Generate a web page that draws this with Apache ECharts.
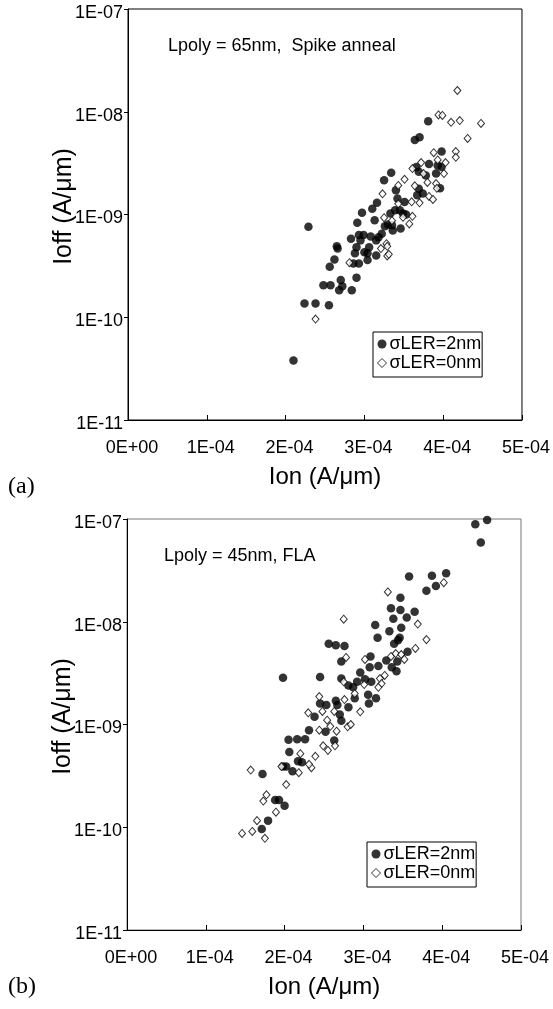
<!DOCTYPE html>
<html>
<head>
<meta charset="utf-8">
<script src="https://cdn.jsdelivr.net/npm/echarts@6/dist/echarts.min.js"></script>
<style>
html,body{margin:0;padding:0;background:#fff;}
#c{width:553px;height:1009px;}
</style>
</head>
<body>
<div id="c"></div>
<script>
// ---- tick labels ----
const xTickLabels = ['0E+00','1E-04','2E-04','3E-04','4E-04','5E-04'];
const yTickLabels = {'-11':'1E-11','-10':'1E-10','-9':'1E-09','-8':'1E-08','-7':'1E-07'};
const seriesNames = ['\u03c3LER=2nm','\u03c3LER=0nm'];
const xTitle = 'Ion (A/\u03bcm)';
const yTitle = 'Ioff (A/\u03bcm)';
const noteA = 'Lpoly = 65nm,  Spike anneal';
const noteB = 'Lpoly = 45nm, FLA';

// ---- (a) Lpoly = 65nm, sigma LER = 2nm ----
const aIon2 = [2.10e-4,2.29e-4,2.24e-4,2.38e-4,2.55e-4,2.48e-4,2.57e-4,2.56e-4,2.62e-4,2.66e-4,2.65e-4,2.70e-4,2.68e-4,2.72e-4,2.84e-4,2.90e-4,2.83e-4,2.91e-4,2.97e-4,2.86e-4,2.93e-4,2.88e-4,2.90e-4,2.93e-4,2.99e-4,3.04e-4,3.04e-4,3.06e-4,3.08e-4,3.13e-4,3.10e-4,3.16e-4,3.15e-4,3.15e-4,3.22e-4,3.26e-4,3.25e-4,3.34e-4,3.35e-4,3.36e-4,3.33e-4,3.40e-4,3.42e-4,3.39e-4,3.46e-4,3.49e-4,3.51e-4,3.53e-4,3.64e-4,3.70e-4,3.81e-4,3.66e-4,3.69e-4,3.69e-4,3.67e-4,3.74e-4,3.78e-4,3.82e-4,3.91e-4,3.93e-4,3.98e-4,3.98e-4,3.96e-4,2.95e-4,3.00e-4,3.18e-4,3.30e-4,3.45e-4];
const aIoff2 = [3.8e-11,7.6e-10,1.36e-10,1.36e-10,1.31e-10,2.05e-10,2.05e-10,3.1e-10,3.64e-10,4.66e-10,4.9e-10,2.3e-10,1.83e-10,2.0e-10,1.83e-10,2.43e-10,5.8e-10,8.3e-10,1.04e-9,3.33e-10,3.33e-10,4.2e-10,4.8e-10,6.3e-10,6.3e-10,3.6e-10,4.2e-10,4.8e-10,6.1e-10,8.8e-10,1.14e-9,1.3e-9,5.6e-10,4.0e-10,6.5e-10,7.7e-10,2.15e-9,2.55e-9,7.85e-10,7.0e-10,1.02e-9,1.72e-9,1.43e-9,1.1e-9,7.3e-10,1.02e-9,1.32e-9,1.0e-9,5.3e-9,5.66e-9,8.1e-9,2.9e-9,2.6e-9,1.78e-9,1.54e-9,1.6e-9,2.4e-9,3.1e-9,2.5e-9,3.0e-9,4.1e-9,2.9e-9,1.8e-9,5.6e-10,4.3e-10,6.0e-10,8.0e-10,1.1e-9];
// ---- (a) sigma LER = 0nm ----
const aIon0 = [2.38e-4,2.81e-4,3.23e-4,3.25e-4,3.21e-4,3.28e-4,3.29e-4,3.29e-4,3.31e-4,3.43e-4,3.51e-4,3.43e-4,3.35e-4,3.57e-4,3.61e-4,3.60e-4,3.61e-4,3.64e-4,3.70e-4,3.72e-4,3.80e-4,3.82e-4,3.87e-4,3.88e-4,3.91e-4,3.92e-4,3.93e-4,3.94e-4,3.99e-4,4.01e-4,4.03e-4,4.10e-4,4.16e-4,4.16e-4,4.18e-4,4.21e-4,4.31e-4,4.48e-4,3.75e-4,3.49e-4];
const aIoff0 = [9.6e-11,3.4e-10,1.59e-9,9.3e-10,4.66e-10,5.2e-10,4.9e-10,3.95e-10,4.1e-10,1.92e-9,2.2e-9,1.27e-9,8.7e-10,8.1e-10,9.6e-10,1.33e-9,2.8e-9,1.9e-9,1.3e-9,3.2e-9,2.05e-9,1.5e-9,1.4e-9,4.0e-9,2.0e-9,1.8e-9,3.4e-9,9.3e-9,9.2e-9,2.5e-9,3.2e-9,7.9e-9,4.1e-9,3.6e-9,1.61e-8,8.2e-9,5.5e-9,7.7e-9,2.5e-9,9.4e-10];

// ---- (b) Lpoly = 45nm, sigma LER = 2nm ----
const bIon2 = [4.42e-4,4.57e-4,4.49e-4,4.05e-4,3.87e-4,3.92e-4,3.80e-4,3.58e-4,3.47e-4,3.35e-4,3.47e-4,3.65e-4,3.55e-4,3.38e-4,3.48e-4,3.15e-4,3.33e-4,3.18e-4,3.46e-4,3.44e-4,3.39e-4,2.56e-4,2.65e-4,2.76e-4,2.72e-4,3.56e-4,3.29e-4,3.43e-4,3.09e-4,3.08e-4,3.19e-4,3.36e-4,3.42e-4,2.96e-4,2.45e-4,1.98e-4,2.72e-4,3.02e-4,2.92e-4,3.10e-4,2.81e-4,2.87e-4,2.89e-4,3.06e-4,3.16e-4,3.07e-4,2.65e-4,2.81e-4,2.45e-4,2.53e-4,2.67e-4,2.38e-4,2.70e-4,2.72e-4,2.31e-4,2.52e-4,2.63e-4,2.05e-4,2.16e-4,2.26e-4,2.06e-4,1.98e-4,2.02e-4,2.17e-4,2.22e-4,2.10e-4,1.72e-4,1.88e-4,1.93e-4,2.00e-4,1.79e-4,1.71e-4];
const bIoff2 = [8.9e-8,9.8e-8,5.9e-8,2.96e-8,2.8e-8,2.23e-8,2.0e-8,2.75e-8,1.71e-8,1.35e-8,1.3e-8,1.25e-8,1.1e-8,1.07e-8,8.75e-9,9.3e-9,8.1e-9,7.0e-9,7.0e-9,6.6e-9,6.1e-9,6.1e-9,5.9e-9,5.8e-9,4.1e-9,5.1e-9,4.2e-9,4.1e-9,4.6e-9,3.6e-9,3.7e-9,3.6e-9,3.3e-9,3.2e-9,2.9e-9,2.85e-9,2.8e-9,2.75e-9,2.6e-9,2.6e-9,2.4e-9,2.3e-9,1.8e-9,1.95e-9,1.8e-9,1.6e-9,1.7e-9,1.47e-9,1.6e-9,1.55e-9,1.55e-9,1.19e-9,1.25e-9,1.09e-9,8.8e-10,8.5e-10,7.0e-10,7.1e-10,7.2e-10,7.2e-10,5.4e-10,3.9e-10,3.9e-10,4.4e-10,4.3e-10,3.5e-10,3.3e-10,1.84e-10,1.84e-10,1.62e-10,1.16e-10,9.6e-11];
// ---- (b) sigma LER = 0nm ----
const bIon0 = [3.31e-4,4.02e-4,2.75e-4,3.69e-4,3.80e-4,3.66e-4,2.78e-4,3.02e-4,3.35e-4,3.41e-4,3.48e-4,3.52e-4,3.27e-4,3.21e-4,3.23e-4,3.19e-4,3.01e-4,2.75e-4,2.89e-4,2.96e-4,2.76e-4,2.44e-4,2.30e-4,2.48e-4,2.54e-4,2.63e-4,2.58e-4,2.44e-4,2.66e-4,2.80e-4,2.84e-4,2.64e-4,2.49e-4,2.55e-4,2.20e-4,2.39e-4,2.34e-4,2.31e-4,2.18e-4,2.02e-4,1.57e-4,1.77e-4,1.73e-4,1.89e-4,1.65e-4,1.59e-4,1.46e-4,1.75e-4,1.96e-4];
const bIoff0 = [1.95e-8,2.4e-8,1.06e-8,9.5e-9,6.7e-9,5.5e-9,4.5e-9,4.3e-9,4.6e-9,4.9e-9,4.8e-9,4.3e-9,3.0e-9,2.8e-9,2.5e-9,2.3e-9,2.45e-9,2.6e-9,2.0e-9,1.33e-9,1.75e-9,1.87e-9,1.3e-9,1.34e-9,1.1e-9,1.34e-9,9.6e-10,8.8e-10,8.6e-10,9.5e-10,1.0e-9,6.2e-10,6.2e-10,5.6e-10,5.2e-10,4.9e-10,3.8e-10,4.1e-10,3.4e-10,2.6e-10,3.6e-10,2.07e-10,1.8e-10,1.4e-10,1.16e-10,9.1e-11,8.7e-11,7.8e-11,3.9e-10];

function pairs(xs, ys){ return xs.map((x,i)=>[x, ys[i]]); }

const FONT = 'Liberation Sans, Arial, sans-serif';
const grids = [
  {left:128, top:9, width:394, height:411, show:true, borderColor:'#000', borderWidth:1},
  {left:127, top:519, width:394, height:411, show:true, borderColor:'#777', borderWidth:1}
];
function xAxisCfg(gi){
  return {
    gridIndex:gi, type:'value', min:0, max:5e-4, interval:1e-4,
    name:xTitle, nameLocation:'middle', nameGap:45, nameMoveOverlap:false,
    nameTextStyle:{fontFamily:FONT, fontSize:24, color:'#000'},
    axisLine:{show:true, lineStyle:{color:'#000', width:1}},
    axisTick:{show:true, inside:true, length:5, lineStyle:{color:'#000'}},
    splitLine:{show:false},
    axisLabel:{fontFamily:FONT, fontSize:18, color:'#000', margin:19, padding:[0,0,0,8],
      showMinLabel:true, showMaxLabel:true,
      formatter:(v)=> xTickLabels[Math.round(v/1e-4)]}
  };
}
function yAxisCfg(gi){
  return {
    gridIndex:gi, type:'log', logBase:10, min:1e-11, max:1e-7, splitNumber:4,
    name:yTitle, nameLocation:'middle', nameGap:51, nameMoveOverlap:false,
    nameTextStyle:{fontFamily:FONT, fontSize:25, color:'#000', padding:[0,0,0,16]},
    axisLine:{show:true, lineStyle:{color:'#000', width:1}},
    axisTick:{show:true, inside:false, length:4, lineStyle:{color:'#000'}},
    minorTick:{show:false},
    splitLine:{show:false},
    axisLabel:{fontFamily:FONT, fontSize:18, color:'#000', margin:5, verticalAlign:'top', padding:[-5,0,0,0],
      showMinLabel:true, showMaxLabel:true,
      formatter:(v)=> yTickLabels[String(Math.round(Math.log10(v)))] || ''}
  };
}
const filledStyle = {color:'#000'};
const openStyle = {color:'#fff', borderColor:'#000', borderWidth:1};
function legendCfg(left, top){
  return {
    left:left, top:top, orient:'vertical',
    borderColor:'#000', borderWidth:1, backgroundColor:'#fff',
    padding:[3,1,5,4], itemGap:1, itemWidth:9, itemHeight:9,
    textStyle:{fontFamily:FONT, fontSize:18, color:'#000', lineHeight:18, padding:[0,0,0,-2]},
    data:[
      {name:seriesNames[0], icon:'circle', itemStyle:filledStyle},
      {name:seriesNames[1], icon:'diamond', itemStyle:openStyle}
    ],
    selectedMode:false
  };
}

const chart = echarts.init(document.getElementById('c'), null, {renderer:'canvas'});
chart.setOption({
  animation:false,
  backgroundColor:'#fff',
  grid:grids,
  xAxis:[xAxisCfg(0), xAxisCfg(1)],
  yAxis:[yAxisCfg(0), yAxisCfg(1)],
  legend:[legendCfg(373,332), legendCfg(367,842)],
  series:[
    {name:seriesNames[0], type:'scatter', xAxisIndex:0, yAxisIndex:0, symbol:'circle', symbolSize:8.5, itemStyle:filledStyle, data:pairs(aIon2,aIoff2)},
    {name:seriesNames[1], type:'scatter', xAxisIndex:0, yAxisIndex:0, symbol:'diamond', symbolSize:[7,8], itemStyle:openStyle, data:pairs(aIon0,aIoff0)},
    {name:seriesNames[0], type:'scatter', xAxisIndex:1, yAxisIndex:1, symbol:'circle', symbolSize:8.5, itemStyle:filledStyle, data:pairs(bIon2,bIoff2)},
    {name:seriesNames[1], type:'scatter', xAxisIndex:1, yAxisIndex:1, symbol:'diamond', symbolSize:[7,8], itemStyle:openStyle, data:pairs(bIon0,bIoff0)}
  ],
  graphic:[
    {type:'text', left:168, top:37, style:{text:noteA, font:'18px '+FONT, fill:'#000'}},
    {type:'text', left:164, top:547, style:{text:noteB, font:'18px '+FONT, fill:'#000'}},
    {type:'text', left:8, top:475, style:{text:'(a)', font:'24px "Liberation Serif", "Times New Roman", serif', fill:'#000'}},
    {type:'text', left:8, top:975, style:{text:'(b)', font:'24px "Liberation Serif", "Times New Roman", serif', fill:'#000'}}
  ]
});
</script>
</body>
</html>
